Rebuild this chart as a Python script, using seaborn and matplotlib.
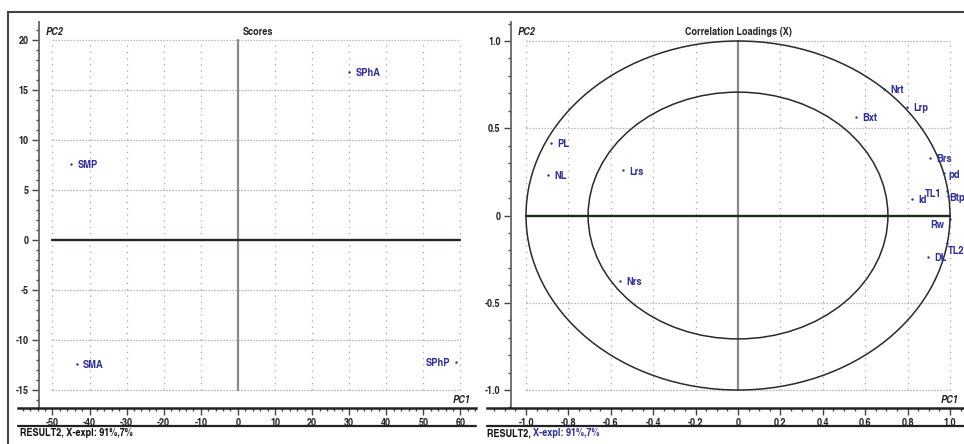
import numpy as np
import pandas as pd
import matplotlib
matplotlib.use("Agg")
import matplotlib.pyplot as plt
from matplotlib import font_manager
from matplotlib.ticker import MultipleLocator
from matplotlib.patches import Circle
from matplotlib.lines import Line2D
import seaborn as sns

# PCA scores (samples)
score_labels = ["SPhA", "SMP", "SMA", "SPhP"]
score_pc1 = [30.0, -44.9, -43.5, 58.9]
score_pc2 = [16.8, 7.6, -12.4, -12.2]

# Correlation loadings (variables)
load_labels = ["PL", "NL", "Lrs", "Nrs", "Bxt", "Nrt", "Lrp", "Brs", "pd",
               "TL1", "Btp", "Id", "Rw", "TL2", "DL"]
load_pc1 = [-0.882, -0.896, -0.542, -0.556, 0.557, 0.689, 0.797, 0.906, 0.972,
            0.985, 0.990, 0.820, 1.000, 0.985, 0.896]
load_pc2 = [0.415, 0.232, 0.260, -0.375, 0.564, 0.725, 0.622, 0.330, 0.243,
            0.140, 0.110, 0.095, -0.020, -0.160, -0.238]

# Axis ticks
score_xticks = [-50, -40, -30, -20, -10, 0, 10, 20, 30, 40, 50, 60]
score_xticklabels = ["-50", "-40", "-30", "-20", "-10", "0", "10", "20", "30", "40", "50", "60"]
score_yticks = [-15, -10, -5, 0, 5, 10, 15, 20]
score_yticklabels = ["-15", "-10", "-5", "0", "5", "10", "15", "20"]
load_xticks = [-1.0, -0.8, -0.6, -0.4, -0.2, 0.0, 0.2, 0.4, 0.6, 0.8, 1.0]
load_xticklabels = ["-1.0", "-0.8", "-0.6", "-0.4", "-0.2", "0", "0.2", "0.4", "0.6", "0.8", "1.0"]
load_yticks = [-1.0, -0.5, 0.0, 0.5, 1.0]
load_yticklabels = ["-1.0", "-0.5", "0", "0.5", "1.0"]

scores = pd.DataFrame({"name": score_labels, "PC1": score_pc1, "PC2": score_pc2})
loadings = pd.DataFrame({"name": load_labels, "PC1": load_pc1, "PC2": load_pc2})


def register_condensed():
    """Register the condensed Helvetica-style face (TeX Gyre Heros Cn)."""
    name = None
    for f in font_manager.findSystemFonts(fontext="otf") + font_manager.findSystemFonts():
        if "texgyreheroscn" in f.lower():
            try:
                font_manager.fontManager.addfont(f)
                name = font_manager.FontProperties(fname=f).get_name()
            except Exception:
                pass
    return name


sns.set_theme(style="white")
cond = register_condensed()
FONT = [cond, "DejaVu Sans"] if cond else ["Roboto", "DejaVu Sans"]
plt.rcParams["font.family"] = FONT
plt.rcParams["font.weight"] = "bold"
FS = 8.2 if cond else 7.2
TFS = FS - 0.2

BLUE = "#2e2e9e"
GRID = "#a8a8a8"

fig = plt.figure(figsize=(9.64, 4.44), dpi=100)
ax_s = fig.add_axes([18 / 964, 36 / 444, 458 / 964, 386 / 444])
ax_l = fig.add_axes([487 / 964, 36 / 444, 477 / 964, 386 / 444])

# label placement: (dx, dy) in points and horizontal alignment
default_place = (4.5, -1, "left")
special_place = {
    "SPhP": (-4.5, -1, "right"),
    "TL1": (-4, -2, "right"),
    "Btp": (1.2, -1, "left"),
    "pd": (3, -1, "left"),
    "Rw": (-4, -4, "right"),
    "TL2": (0.8, -5.5, "left"),
}


def style_axes(ax, xlim, ylim, yspine_x, xticks, xtl, yticks, ytl, xminor, yminor):
    ax.set_xlim(*xlim)
    ax.set_ylim(*ylim)
    ax.set_facecolor("white")
    for s in ("top", "right"):
        ax.spines[s].set_visible(False)
    ax.spines["left"].set_position(("data", yspine_x))
    ax.spines["left"].set_color("#666666")
    ax.spines["left"].set_linewidth(1.3)
    ax.spines["bottom"].set_color("#222222")
    ax.spines["bottom"].set_linewidth(1.8)
    ax.set_xticks(xticks, xtl)
    ax.set_yticks(yticks, ytl)
    ax.xaxis.set_minor_locator(MultipleLocator(xminor))
    ax.yaxis.set_minor_locator(MultipleLocator(yminor))
    ax.tick_params(which="major", direction="out", length=5, width=1.0,
                   color="#444444", labelsize=TFS, pad=2.5, bottom=True, left=True)
    ax.tick_params(which="minor", direction="out", length=2.5, width=1.0,
                   color="#444444", bottom=True, left=True)
    for lab in ax.get_xticklabels() + ax.get_yticklabels():
        lab.set_fontweight("bold")
        lab.set_fontfamily(FONT)
    # dotted grid restricted to the tick box
    x0, x1 = xticks[0], xticks[-1]
    y0, y1 = yticks[0], yticks[-1]
    for yv in yticks:
        if yv != 0:
            ax.plot([x0, x1], [yv, yv], color=GRID, lw=0.9, ls=(0, (1, 1.4)), zorder=1)
    for xv in xticks:
        if xv != 0:
            ax.plot([xv, xv], [y0, y1], color=GRID, lw=0.9, ls=(0, (1, 4)), zorder=1)
    # zero axes
    ax.plot([0, 0], [y0, y1], color="#8a8a8a", lw=1.6, zorder=2)
    ax.plot([x0, x1], [0, 0], color="#1f2a1f", lw=1.7, zorder=2)
    # rule beneath the tick labels
    ax.plot([0, 1], [-0.046, -0.046], transform=ax.transAxes, color="#222222",
            lw=1.6, clip_on=False)


def label_points(ax, df):
    for _, r in df.iterrows():
        dx, dy, ha = special_place.get(r["name"], default_place)
        ax.annotate(r["name"], (r["PC1"], r["PC2"]), xytext=(dx, dy),
                    textcoords="offset points", ha=ha, va="center",
                    color=BLUE, fontsize=FS, fontweight="bold", family=FONT)


# Scores panel
style_axes(ax_s, (-59.3, 64.2), (-16.8, 21.8), -53.6,
           score_xticks, score_xticklabels, score_yticks, score_yticklabels, 2, 1)
sns.scatterplot(data=scores, x="PC1", y="PC2", ax=ax_s, color=BLUE, s=3,
                linewidth=0, zorder=4, legend=False)
label_points(ax_s, scores)
ax_s.set_xlabel("")
ax_s.set_ylabel("")
ax_s.text(-51.8, 20.8, "PC2", fontsize=TFS, fontweight="bold", style="italic", va="center")
ax_s.text(5.3, 20.8, "Scores", fontsize=TFS, fontweight="bold", ha="center", va="center")
ax_s.text(60.2, -16.0, "PC1", fontsize=TFS, fontweight="bold", style="italic",
          ha="center", va="center")

# Correlation loadings panel
style_axes(ax_l, (-1.184, 1.066), (-1.103, 1.109), -1.071,
           load_xticks, load_xticklabels, load_yticks, load_yticklabels, 0.05, 0.1)
for rad in (1.0, np.sqrt(0.5)):
    ax_l.add_patch(Circle((0, 0), rad, fill=False, ec="#2a2a2a", lw=1.1, zorder=3))
sns.scatterplot(data=loadings, x="PC1", y="PC2", ax=ax_l, color=BLUE, s=3,
                linewidth=0, zorder=4, legend=False)
label_points(ax_l, loadings)
ax_l.set_xlabel("")
ax_l.set_ylabel("")
ax_l.text(-1.04, 1.05, "PC2", fontsize=TFS, fontweight="bold", style="italic", va="center")
ax_l.text(0.0, 1.05, "Correlation Loadings (X)", fontsize=TFS, fontweight="bold",
          ha="center", va="center")
ax_l.text(1.0, -1.06, "PC1", fontsize=TFS, fontweight="bold", style="italic",
          ha="center", va="center")

# footers
fig.text(20 / 964, 1 - 433 / 444, "RESULT2, X-expl: 91%,7%", fontsize=TFS,
         fontweight="bold", va="center", color="#111111")
t = fig.text(487 / 964, 1 - 433 / 444, "RESULT2, ", fontsize=TFS,
             fontweight="bold", va="center", color="#111111")
fig.canvas.draw()
bb = t.get_window_extent()
fig.text(bb.x1 / fig.bbox.width, 1 - 433 / 444, "X-expl: 91%,7%", fontsize=TFS,
         fontweight="bold", va="center", color=BLUE)

# frame lines
fig.add_artist(Line2D([8 / 964, 1.0], [1 - 12 / 444, 1 - 12 / 444],
                      color="#444444", lw=1.5))
fig.add_artist(Line2D([8 / 964, 8 / 964], [0, 1 - 12 / 444],
                      color="#444444", lw=1.5))

fig.savefig("out.png", dpi=100, facecolor="white")
